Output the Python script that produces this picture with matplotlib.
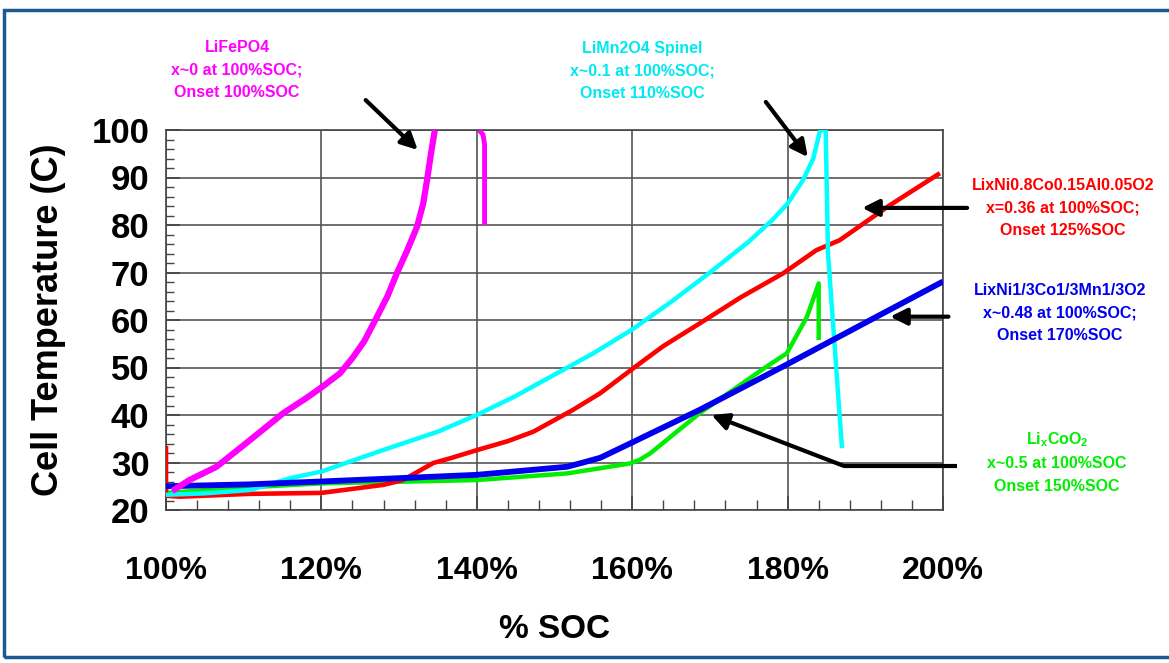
import matplotlib
matplotlib.use("Agg")
import matplotlib.pyplot as plt
from matplotlib.patches import Rectangle
from matplotlib.ticker import MultipleLocator, FuncFormatter

plt.rcParams['font.family'] = ['Liberation Sans', 'DejaVu Sans']
plt.rcParams['mathtext.fontset'] = 'custom'
plt.rcParams['mathtext.rm'] = 'Liberation Sans:bold'
plt.rcParams['mathtext.it'] = 'Liberation Sans:bold'
plt.rcParams['mathtext.bf'] = 'Liberation Sans:bold'

# ---- data ----
lfp_x = [100.8, 103.0, 106.5, 110.8, 115.1, 118.0, 120.0, 122.4, 124.0, 125.5, 127.1, 128.5,
         129.7, 131.0, 132.3, 133.1, 133.6, 134.1, 134.6]
lfp_y = [24.0, 26.3, 29.1, 34.7, 40.4, 43.5, 45.8, 48.8, 52.0, 55.5, 60.5, 65.0,
         69.8, 74.5, 79.6, 84.5, 89.5, 95.0, 100.0]
lfp2_x = [140.3, 140.8, 141.0, 141.0]
lfp2_y = [100.0, 99.0, 97.0, 80.0]

lmo_x = [100.0, 105.0, 110.8, 116.0, 120.0, 127.9, 135.0, 140.0, 145.0, 150.0, 155.0, 160.0,
         165.0, 170.0, 175.0, 178.0, 180.0, 182.0, 183.3, 184.2, 184.9, 185.2, 187.0]
lmo_y = [23.2, 23.5, 24.2, 26.7, 28.1, 32.6, 36.5, 40.0, 44.0, 48.5, 53.0, 58.0,
         63.8, 70.0, 76.5, 81.0, 84.5, 89.5, 94.0, 100.0, 100.0, 74.0, 33.0]

nca_x = [100.0, 100.0, 101.8, 110.8, 120.0, 128.0, 130.5, 134.4, 136.6, 140.0, 144.0, 147.3,
         152.4, 155.9, 160.1, 164.0, 168.7, 174.0, 179.4, 183.7, 186.7, 193.0, 199.6]
nca_y = [33.5, 23.0, 22.8, 23.4, 23.6, 25.3, 26.3, 29.9, 30.9, 32.6, 34.5, 36.5,
         41.1, 44.6, 49.8, 54.5, 59.3, 64.8, 69.8, 74.7, 76.8, 84.0, 90.9]

nmc_x = [100.0, 110.8, 120.0, 140.0, 151.6, 153.7, 155.9, 160.1, 168.7, 179.4, 190.2, 200.0]
nmc_y = [25.0, 25.4, 26.0, 27.4, 29.1, 30.0, 31.0, 34.3, 41.1, 50.2, 59.6, 68.1]

lco_x = [100.0, 110.8, 120.0, 140.0, 151.6, 155.9, 159.7, 161.0, 162.3, 165.0, 168.7, 173.0,
         177.3, 179.9, 182.5, 184.0, 184.0]
lco_y = [23.6, 24.8, 25.6, 26.3, 27.7, 28.8, 29.8, 30.6, 31.9, 35.5, 40.4, 45.3,
         50.2, 53.0, 60.7, 67.7, 55.8]

x_ticks = [100, 120, 140, 160, 180, 200]
y_ticks = [20, 30, 40, 50, 60, 70, 80, 90, 100]

fig = plt.figure(figsize=(11.69, 6.63), dpi=100)
ax = fig.add_axes([166/1169, 1-510/663, (943-166)/1169, (510-130)/663])

ax.plot(lco_x, lco_y, color='#00ee00', lw=3.2, zorder=3, solid_capstyle='butt')
ax.plot(nca_x, nca_y, color='#ff0000', lw=3.3, zorder=4, solid_capstyle='butt')
ax.plot(lmo_x, lmo_y, color='#00ffff', lw=3.2, zorder=5, solid_capstyle='butt')
ax.plot(nmc_x, nmc_y, color='#0000ee', lw=4.2, zorder=6, solid_capstyle='butt')
ax.plot(lfp_x, lfp_y, color='#ff00ff', lw=4.5, zorder=7, solid_capstyle='butt')
ax.plot(lfp2_x, lfp2_y, color='#ff00ff', lw=3.5, zorder=7, solid_capstyle='butt')

ax.set_xlim(100, 200)
ax.set_ylim(20, 100)
ax.set_xticks(x_ticks)
ax.set_yticks(y_ticks)
ax.xaxis.set_minor_locator(MultipleLocator(4))
ax.yaxis.set_minor_locator(MultipleLocator(2))
ax.xaxis.set_major_formatter(FuncFormatter(lambda v, p: f"{int(v)}%"))
ax.grid(True, which='major', color='#555555', lw=1.2)
ax.tick_params(axis='both', which='both', direction='in', color='#444444')
ax.tick_params(axis='y', which='major', length=10, width=1.2, pad=12, labelsize=25)
ax.tick_params(axis='y', which='minor', length=6, width=1.0)
ax.tick_params(axis='x', which='major', length=10, width=1.2, pad=33, labelsize=23)
ax.tick_params(axis='x', which='minor', length=7, width=1.0)
for lab in ax.get_xticklabels() + ax.get_yticklabels():
    lab.set_fontweight('bold')
for s in ax.spines.values():
    s.set_color('#444444')
    s.set_linewidth(1.2)

ax.set_ylabel('Cell Temperature (C)', fontsize=26, fontweight='bold', labelpad=18)
ax.set_xlabel('% SOC', fontsize=24, fontweight='bold', labelpad=20)

# annotations
def lbl(x, y, s, c):
    fig.text(x/1169, 1-y/663, s, color=c, fontsize=11.5, fontweight='bold',
             ha='center', va='center', linespacing=1.6)

lbl(237, 70, "LiFePO4\nx~0 at 100%SOC;\nOnset 100%SOC", '#ff00ff')
lbl(642, 71, "LiMn2O4 Spinel\nx~0.1 at 100%SOC;\nOnset 110%SOC", '#00e8f0')
lbl(1063, 208, "LixNi0.8Co0.15Al0.05O2\nx=0.36 at 100%SOC;\nOnset 125%SOC", '#ff0000')
lbl(1060, 313, "LixNi1/3Co1/3Mn1/3O2\nx~0.48 at 100%SOC;\nOnset 170%SOC", '#0000ee')
lbl(1057, 462, "Li$_{x}$CoO$_{2}$\nx~0.5 at 100%SOC\nOnset 150%SOC", '#00ee00')

aprops = dict(arrowstyle='-|>,head_length=1.0,head_width=0.5', color='black', lw=3,
              shrinkA=0, shrinkB=0)
def arrow(tail, head):
    ax.annotate('', xy=head, xytext=tail, xycoords='data', textcoords='data',
                arrowprops=aprops, annotation_clip=False, zorder=10)

arrow((125.7, 106.3), (132.4, 95.8))
arrow((177.2, 105.9), (182.6, 94.3))
arrow((203.1, 83.6), (189.6, 83.6))
arrow((200.7, 60.7), (193.2, 60.7))
ax.plot([201.8, 187.2], [29.3, 29.3], color='black', lw=3, clip_on=False, zorder=10,
        solid_capstyle='butt')
arrow((187.2, 29.3), (170.2, 40.0))

fig.patches.append(Rectangle((4/1169, 6/663), 1.2, 1-16/663, transform=fig.transFigure,
                             fill=False, edgecolor='#1d5a94', lw=2.5, clip_on=False))

fig.savefig('out.png', dpi=100)
